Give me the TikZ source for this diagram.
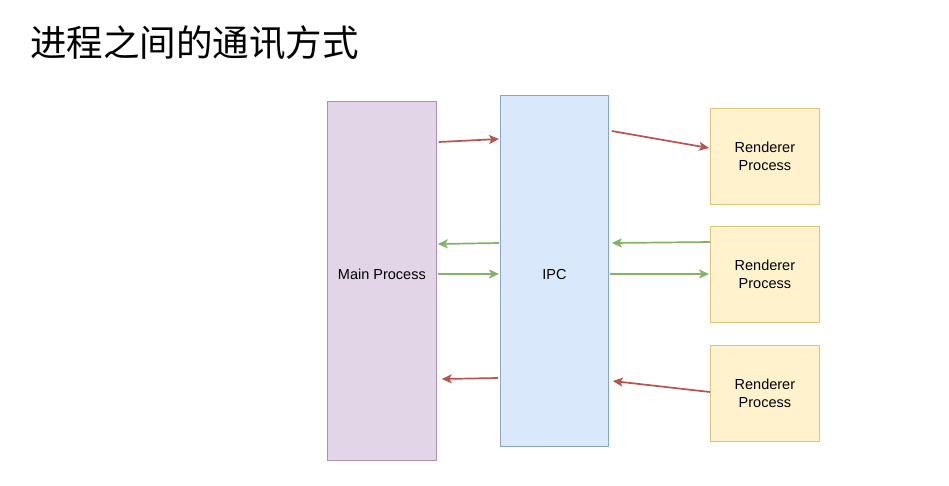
\documentclass[tikz,border=0pt]{standalone}
\usepackage{fontspec}
\setmainfont{Liberation Sans}
\newfontfamily\cjk{Noto Sans CJK SC}
\usetikzlibrary{arrows.meta}

\definecolor{mainfill}{HTML}{E1D5E7}
\definecolor{maindraw}{HTML}{9673A6}
\definecolor{ipcfill}{HTML}{DAE8FC}
\definecolor{ipcdraw}{HTML}{6C8EBF}
\definecolor{rendfill}{HTML}{FFF2CC}
\definecolor{renddraw}{HTML}{D6B656}
\definecolor{redline}{HTML}{B85450}
\definecolor{greenline}{HTML}{82B366}

\tikzset{
  procbox/.style={draw, anchor=north west, inner sep=0pt, align=center,
    font=\fontsize{14.5}{18}\selectfont, line width=0.8pt},
  redarrow/.style={draw=redline, line width=1.7pt, -{Stealth[length=10pt,width=9pt,inset=2.5pt]}},
  greenarrow/.style={draw=greenline, line width=1.7pt, -{Stealth[length=10pt,width=9pt,inset=2.5pt]}}
}

\begin{document}
\begin{tikzpicture}[x=1pt,y=-1pt]
\useasboundingbox[fill=white] (0,0) rectangle (949,485);

\node[anchor=west, inner sep=0pt, font=\cjk\fontsize{36.5}{40}\selectfont] (title) at (30,43) {进程之间的通讯方式};

% boxes
\node[procbox, fill=mainfill, draw=maindraw!80, minimum width=109pt, minimum height=359pt] (main) at (327,101) {\raisebox{13pt}{Main Process}};
\node[procbox, fill=ipcfill, draw=ipcdraw!80, minimum width=108pt, minimum height=351pt] (ipc) at (500,95) {\raisebox{-9pt}[0pt][0pt]{IPC}};
\node[procbox, fill=rendfill, draw=renddraw!80, minimum width=109pt, minimum height=96pt] (rendA) at (710,108) {Renderer\\Process};
\node[procbox, fill=rendfill, draw=renddraw!80, minimum width=109pt, minimum height=96pt] (rendB) at (710,226) {Renderer\\Process};
\node[procbox, fill=rendfill, draw=renddraw!80, minimum width=109pt, minimum height=96pt] (rendC) at (710,345) {Renderer\\Process};

% arrows
\draw[redarrow] ([shift={(2,41)}]main.north east) -- ([shift={(-1,44)}]ipc.north west);
\draw[redarrow] ([shift={(3,36)}]ipc.north east) -- ([shift={(-1,40)}]rendA.north west);

\draw[greenarrow] ([shift={(-1,148)}]ipc.north west) -- ([shift={(1,143)}]main.north east);
\draw[greenarrow] ([shift={(1,173)}]main.north east) -- ([shift={(-1,179)}]ipc.north west);
\draw[greenarrow] ([shift={(0,16)}]rendB.north west) -- ([shift={(3,148)}]ipc.north east);
\draw[greenarrow] ([shift={(1,179)}]ipc.north east) -- ([shift={(-1,48)}]rendB.north west);

\draw[redarrow] ([shift={(-2,283)}]ipc.north west) -- ([shift={(5,278)}]main.north east);
\draw[redarrow] ([shift={(0,47)}]rendC.north west) -- ([shift={(4,286)}]ipc.north east);

\end{tikzpicture}
\end{document}
